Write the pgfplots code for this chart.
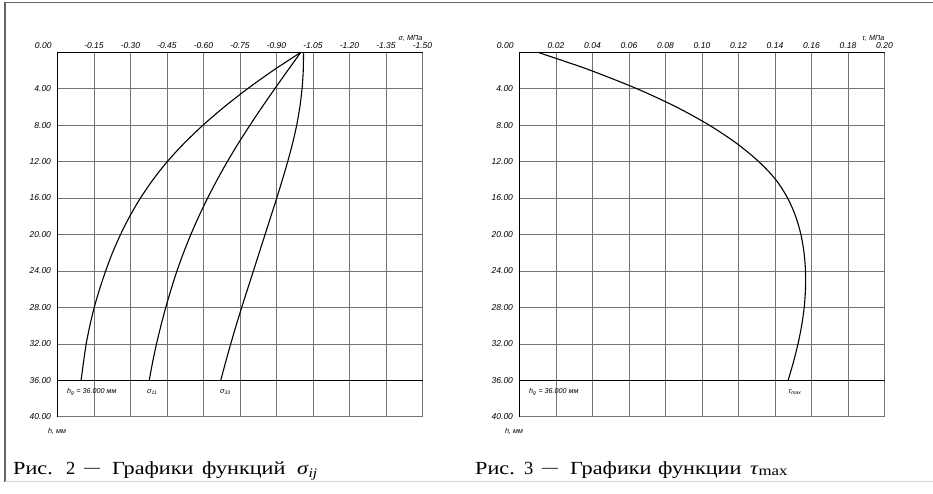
\documentclass[border=0pt]{standalone}
\usepackage{pgfplots}
\pgfplotsset{compat=1.18}
\usepackage{fontspec}
\setmainfont{Liberation Serif}
\setsansfont{Liberation Sans}
\newfontfamily\capfont[FakeStretch=1.2]{Liberation Serif}
\newcommand{\tlf}{\fontsize{8.5}{9}\selectfont\sffamily\itshape}
\newcommand{\smf}{\fontsize{7.2}{8}\selectfont\sffamily\itshape}
\newcommand{\capf}{\fontsize{18.5}{20}\selectfont\capfont}

\pgfplotsset{
  myax/.style={
    scale only axis, width=365pt, height=364.4pt, anchor=center,
    ymin=0, ymax=40, y dir=reverse,
    ytick={0,4,8,12,16,20,24,28,32,36,40},
    yticklabels={,4.00,8.00,12.00,16.00,20.00,24.00,28.00,32.00,36.00,40.00},
    grid=major, major grid style={black!55, line width=0.6pt},
    axis line style={black!55, line width=0.6pt},
    tick style={draw=none},
    xticklabel pos=upper,
    ticklabel style={font=\tlf},
    yticklabel style={xshift=-3pt},
    clip=false,
  },
  curve/.style={black, line width=1.1pt, smooth, no marks},
}

\begin{document}
\begin{tikzpicture}
\path[use as bounding box] (0pt,0pt) rectangle (933pt,493pt);
% outer frame
\draw[gray!80!black, line width=1.2pt] (933pt,490.3pt) -- (5pt,490.3pt) -- (5pt,11.3pt);
\draw[gray!35, line width=1.5pt] (5pt,11.3pt) -- (933pt,11.3pt);

% ---------- left chart ----------
\begin{axis}[myax, at={(240pt,258.5pt)},
  xmin=-1.5, xmax=0, x dir=reverse,
  xtick={0,-0.15,-0.3,-0.45,-0.6,-0.75,-0.9,-1.05,-1.2,-1.35,-1.5},
  xticklabels={\llap{0.00\hspace{6pt}},-0.15,-0.30,-0.45,-0.60,-0.75,-0.90,-1.05,-1.20,-1.35,-1.50},
]
\addplot[curve] coordinates {
(-1.000,0) (-0.886,2) (-0.781,4) (-0.685,6) (-0.598,8) (-0.520,10) (-0.451,12)
(-0.392,14) (-0.341,16) (-0.297,18) (-0.259,20) (-0.226,22) (-0.198,24) (-0.173,26)
(-0.151,28) (-0.133,30) (-0.118,32) (-0.107,34) (-0.097,36)};
\addplot[curve] coordinates {
(-1.000,0) (-0.946,2) (-0.893,4) (-0.841,6) (-0.791,8) (-0.743,10) (-0.698,12)
(-0.656,14) (-0.617,16) (-0.581,18) (-0.548,20) (-0.518,22) (-0.491,24) (-0.467,26)
(-0.445,28) (-0.425,30) (-0.407,32) (-0.391,34) (-0.377,36)};
\addplot[curve] coordinates {
(-1.011,0) (-1.010,2) (-1.005,4) (-0.996,6) (-0.983,8) (-0.966,10) (-0.946,12)
(-0.924,14) (-0.901,16) (-0.877,18) (-0.853,20) (-0.829,22) (-0.805,24) (-0.781,26)
(-0.757,28) (-0.734,30) (-0.712,32) (-0.691,34) (-0.671,36)};
\draw[black, line width=1.1pt] (axis cs:0,36) -- (axis cs:-1.5,36);
\draw[black, line width=1.3pt] (axis cs:0,40) -- (axis cs:0,0) -- (axis cs:-1.5,0);
\node[anchor=base west, font=\smf, inner sep=0pt] at (axis cs:-0.039,37.4) {h\textsubscript{g} = 36.000 мм};
\node[anchor=base west, font=\smf, inner sep=0pt] at (axis cs:-0.368,37.4) {σ\textsubscript{11}};
\node[anchor=base west, font=\smf, inner sep=0pt] at (axis cs:-0.668,37.4) {σ\textsubscript{33}};
\node[anchor=base east, font=\smf, inner sep=0pt, yshift=12pt] at (axis cs:-1.5,0) {σ, МПа};
\node[anchor=base west, font=\smf, inner sep=0pt, xshift=-9.5pt, yshift=-16.5pt] at (axis cs:0,40) {h, мм};
\end{axis}

% ---------- right chart ----------
\begin{axis}[myax, at={(702pt,258.5pt)},
  xmin=0, xmax=0.2,
  xtick={0,0.02,0.04,0.06,0.08,0.1,0.12,0.14,0.16,0.18,0.2},
  xticklabels={\llap{0.00\hspace{6pt}},0.02,0.04,0.06,0.08,0.10,0.12,0.14,0.16,0.18,0.20},
]
\addplot[curve] coordinates {
(0.0101,0) (0.0249,1) (0.0392,2) (0.0644,4) (0.0859,6) (0.1040,8) (0.1190,10)
(0.1311,12) (0.1405,14) (0.1469,16) (0.1513,18) (0.1542,20) (0.1559,22) (0.1567,24)
(0.1567,26) (0.1560,28) (0.1546,30) (0.1526,32) (0.1501,34) (0.1472,36)};
\draw[black, line width=1.1pt] (axis cs:0,36) -- (axis cs:0.2,36);
\draw[black, line width=1.3pt] (axis cs:0,40) -- (axis cs:0,0) -- (axis cs:0.2,0);
\node[anchor=base west, font=\smf, inner sep=0pt] at (axis cs:0.0052,37.4) {h\textsubscript{g} = 36.000 мм};
\node[anchor=base west, font=\smf, inner sep=0pt] at (axis cs:0.1474,37.4) {τ\textsubscript{max}};
\node[anchor=base east, font=\smf, inner sep=0pt, yshift=12pt] at (axis cs:0.2,0) {τ, МПа};
\node[anchor=base west, font=\smf, inner sep=0pt, xshift=-14.5pt, yshift=-16.5pt] at (axis cs:0,40) {h, мм};
\end{axis}

% ---------- captions ----------
\begin{scope}[every node/.style={anchor=base west, inner sep=0pt, font=\capf}]
\node at (13pt,19pt) {Рис.};
\node[font=\fontsize{18.5}{20}\selectfont\rmfamily] at (66pt,19pt) {2};
\node[font=\fontsize{16}{18}\selectfont\rmfamily] at (84pt,21pt) {—};
\node at (112pt,19pt) {Графики};
\node at (202pt,19pt) {функций};
\node at (297pt,19pt) {\itshape σ\kern0.5pt{\fontsize{13}{14}\selectfont\raisebox{-3pt}{ij}}};
\node at (475pt,19pt) {Рис.};
\node[font=\fontsize{18.5}{20}\selectfont\rmfamily] at (524pt,19pt) {3};
\node[font=\fontsize{16}{18}\selectfont\rmfamily] at (542pt,21pt) {—};
\node at (570pt,19pt) {Графики};
\node at (658pt,19pt) {функции};
\node at (750pt,19pt) {{\itshape τ}\kern0.5pt{\fontsize{14}{15}\selectfont\raisebox{-1pt}{max}}};
\end{scope}
\end{tikzpicture}
\end{document}
